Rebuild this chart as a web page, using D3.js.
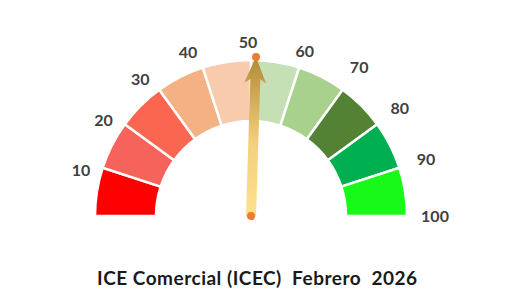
<!DOCTYPE html>
<html>
<head>
<meta charset="utf-8">
<script src="https://cdn.jsdelivr.net/npm/d3@7"></script>
<style>
  body { margin: 0; background: #fff; }
  svg { display: block; }
</style>
</head>
<body>
<svg id="gauge" width="505" height="306"></svg>
<script>
// gauge data
const bandStarts = [0, 10, 20, 30, 40, 50, 60, 70, 80, 90];
const bandColors = ["#FF0000", "#F6635A", "#FB6650", "#F4B183", "#F8CBAD",
                    "#C5E0B4", "#A9D18E", "#548235", "#00B050", "#19F919"];
const tickLabels = [10, 20, 30, 40, 50, 60, 70, 80, 90, 100];
const needleValue = 51;
const title = "ICE Comercial (ICEC)  Febrero  2026";

const svg = d3.select("#gauge");
const cx = 251, cy = 216;
const outerR = 156, innerR = 95;

// value -> angle (d3 arc convention: 0 = up, clockwise)
const angle = d3.scaleLinear().domain([0, 100]).range([-Math.PI / 2, Math.PI / 2]);

const g = svg.append("g").attr("transform", `translate(${cx},${cy})`);

const arc = d3.arc().innerRadius(innerR).outerRadius(outerR);

g.selectAll("path.band")
    .data(bandStarts)
    .enter().append("path")
    .attr("class", "band")
    .attr("d", (d) => arc({ startAngle: angle(d), endAngle: angle(d + 10) }))
    .attr("fill", (d, i) => bandColors[i])
    .attr("stroke", "#fff")
    .attr("stroke-width", 2.5);

// tick labels (left side sits a bit lower, right side a bit further out)
const labelR = d => d < 50 ? 176 : (d <= 60 ? 174 : 184);
const labelA = d => angle(d) + (d < 50 ? -3 * Math.PI / 180 : 0);
g.selectAll("text.tick")
    .data(tickLabels)
    .enter().append("text")
    .attr("class", "tick")
    .attr("x", d => labelR(d) * Math.sin(labelA(d)) - (d === 50 ? 3 : 0))
    .attr("y", d => -labelR(d) * Math.cos(labelA(d)) + 6)
    .attr("text-anchor", "middle")
    .attr("font-family", "Lato, 'Open Sans', sans-serif")
    .attr("font-weight", "bold")
    .attr("font-size", 16)
    .attr("fill", "#404040")
    .text(d => d);

// needle gradient
const defs = svg.append("defs");
const grad = defs.append("linearGradient")
    .attr("id", "needleGrad")
    .attr("x1", 0).attr("y1", 1).attr("x2", 0).attr("y2", 0);
grad.append("stop").attr("offset", "0%").attr("stop-color", "#FFE08C");
grad.append("stop").attr("offset", "45%").attr("stop-color", "#F3D17E");
grad.append("stop").attr("offset", "100%").attr("stop-color", "#B28A36");

const needleLen = 159;
const shaftW = 10, headW = 22, headLen = 22;
const needleDeg = angle(needleValue) * 180 / Math.PI;

const needle = g.append("g").attr("transform", `rotate(${needleDeg})`);
const pts = [
    [-shaftW / 2, 0],
    [-shaftW / 2, -(needleLen - headLen)],
    [-headW / 2, -(needleLen - headLen) + 4],
    [0, -needleLen],
    [headW / 2, -(needleLen - headLen) + 4],
    [shaftW / 2, -(needleLen - headLen)],
    [shaftW / 2, 0]
];
needle.append("path")
    .attr("d", d3.line()(pts) + "Z")
    .attr("fill", "url(#needleGrad)");

needle.selectAll("circle")
    .data([0, -needleLen])
    .enter().append("circle")
    .attr("cx", 0)
    .attr("cy", d => d)
    .attr("r", 4)
    .attr("fill", "#ED7D31");

// title
svg.append("text")
    .attr("x", 97)
    .attr("y", 285)
    .attr("font-family", "Lato, 'Open Sans', sans-serif")
    .attr("font-weight", "bold")
    .attr("font-size", 19)
    .attr("fill", "#1a1a1a")
    .attr("textLength", 320)
    .attr("lengthAdjust", "spacing")
    .style("white-space", "pre")
    .text(title);
</script>
</body>
</html>
